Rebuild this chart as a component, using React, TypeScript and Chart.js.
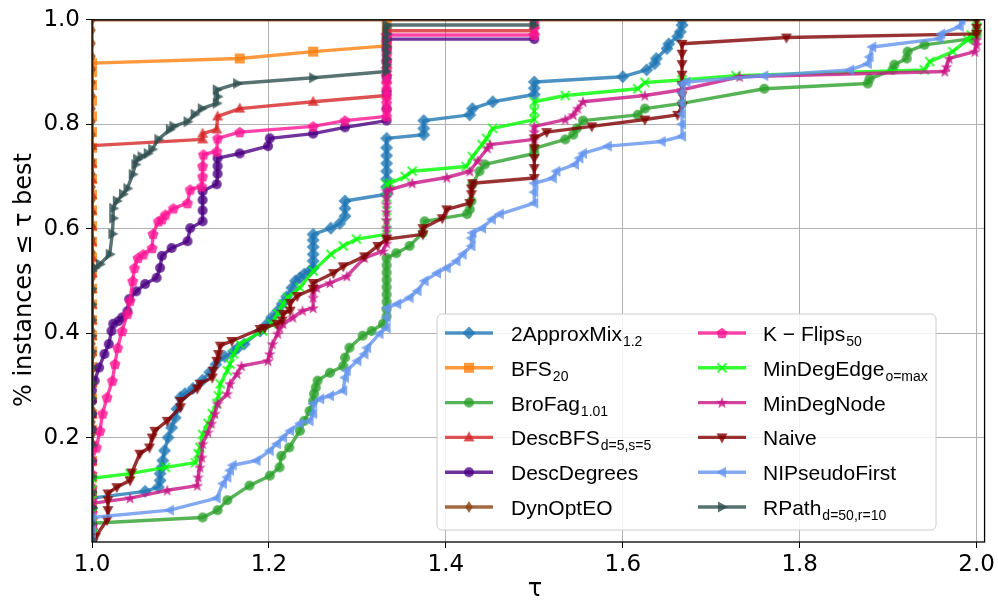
import { useEffect, useRef } from "react";
import { Chart, registerables } from "chart.js";

Chart.register(...registerables);

const LEGEND_FONT = '"Liberation Sans", Arial, sans-serif';
const AXIS_FONT = '"DejaVu Sans", sans-serif';

const seriesNames = ["2ApproxMix", "BFS", "BroFag", "DescBFS", "DescDegrees", "DynOptEO", "K − Flips", "MinDegEdge", "MinDegNode", "Naive", "NIPseudoFirst", "RPath"];
const seriesSubscripts = ["1.2", "20", "1.01", "d=5,s=5", "", "", "50", "o=max", "", "", "", "d=50,r=10"];
const seriesColors = ["#1f77b4", "#ff7f0e", "#2ca02c", "#d62728", "#4b0082", "#8b4513", "#ff1493", "#00ff00", "#c71585", "#800000", "#6495ed", "#2f4f4f"];
const seriesMarkers = ["D", "s", "o", "^", "o", "d", "p", "x", "*", "v", "<", ">"];

const xTicks = [1.0, 1.2, 1.4, 1.6, 1.8, 2.0];
const yTicks = [0.2, 0.4, 0.6, 0.8, 1.0];

// fraction of instances at tau = 1 (best solver)
const approxMixAtOne = [0.005, 0.025, 0.045, 0.065, 0.084];
const bfsAtOne = [0.005, 0.035, 0.065, 0.095, 0.125, 0.155, 0.185, 0.215, 0.245, 0.275, 0.305, 0.335, 0.365, 0.395, 0.425, 0.455, 0.485, 0.515, 0.545, 0.575, 0.605, 0.635, 0.665, 0.695, 0.725, 0.755, 0.785, 0.815, 0.845, 0.875, 0.9, 0.917];
const broFagAtOne = [0.005, 0.02, 0.036];
const descBfsAtOne = [0.005, 0.035, 0.065, 0.095, 0.125, 0.155, 0.185, 0.215, 0.245, 0.275, 0.305, 0.335, 0.365, 0.395, 0.425, 0.455, 0.485, 0.515, 0.545, 0.575, 0.605, 0.635, 0.665, 0.695, 0.725, 0.759];
const descDegreesAtOne = [0.005, 0.035, 0.065, 0.095, 0.125, 0.155, 0.185, 0.215, 0.245, 0.27, 0.29];
const dynOptAtOne = [0.005, 0.03, 0.055, 0.08, 0.105, 0.13, 0.155, 0.18, 0.205, 0.23, 0.255, 0.28, 0.305, 0.33, 0.355, 0.38, 0.405, 0.43, 0.455, 0.48, 0.505, 0.53, 0.555, 0.58, 0.605, 0.63, 0.655, 0.68, 0.705, 0.73, 0.755, 0.78, 0.805, 0.83, 0.855, 0.88, 0.905, 0.93, 0.955, 0.98, 1.0];
const kFlipsAtOne = [0.005, 0.03, 0.055, 0.08, 0.105, 0.13, 0.155, 0.175];
const minDegEdgeAtOne = [0.005, 0.03, 0.055, 0.08, 0.1, 0.122];
const minDegNodeAtOne = [0.005, 0.03, 0.055, 0.074];
const naiveAtOne = [0.005];
const nipAtOne = [0.005, 0.025, 0.047];
const rpathAtOne = [0.005, 0.035, 0.065, 0.095, 0.125, 0.155, 0.185, 0.215, 0.245, 0.275, 0.305, 0.335, 0.365, 0.395, 0.425, 0.455, 0.485, 0.519];

// remaining points [tau, fraction]
const approxMixCurve = [[1.06, 0.097], [1.075, 0.105], [1.077, 0.118], [1.077, 0.131], [1.079, 0.143], [1.08, 0.156], [1.082, 0.175], [1.086, 0.2], [1.09, 0.219], [1.094, 0.238], [1.096, 0.255], [1.1, 0.277], [1.105, 0.284], [1.114, 0.294], [1.125, 0.31], [1.133, 0.325], [1.14, 0.34], [1.15, 0.355], [1.16, 0.365], [1.165, 0.372], [1.172, 0.379], [1.19, 0.404], [1.198, 0.418], [1.203, 0.43], [1.21, 0.443], [1.215, 0.456], [1.22, 0.47], [1.226, 0.487], [1.23, 0.5], [1.235, 0.506], [1.24, 0.513], [1.246, 0.519], [1.25, 0.525], [1.25, 0.538], [1.25, 0.551], [1.25, 0.565], [1.25, 0.578], [1.25, 0.589], [1.27, 0.601], [1.28, 0.61], [1.286, 0.624], [1.286, 0.639], [1.286, 0.653], [1.333, 0.666], [1.333, 0.68], [1.333, 0.695], [1.333, 0.71], [1.333, 0.725], [1.333, 0.74], [1.333, 0.755], [1.333, 0.773], [1.375, 0.78], [1.375, 0.792], [1.375, 0.807], [1.427, 0.818], [1.43, 0.83], [1.453, 0.843], [1.5, 0.857], [1.5, 0.869], [1.5, 0.881], [1.6, 0.891], [1.627, 0.904], [1.636, 0.916], [1.638, 0.926], [1.65, 0.945], [1.652, 0.954], [1.662, 0.968], [1.665, 0.977], [1.667, 0.99], [1.667, 1.0]];
const bfsCurve = [[1.167, 0.926], [1.25, 0.939], [1.333, 0.95], [1.333, 0.965], [1.333, 0.98], [1.333, 1.0]];
const broFagCurve = [[1.125, 0.047], [1.142, 0.061], [1.153, 0.08], [1.178, 0.108], [1.201, 0.127], [1.212, 0.143], [1.214, 0.165], [1.223, 0.181], [1.235, 0.213], [1.24, 0.232], [1.246, 0.251], [1.25, 0.27], [1.251, 0.284], [1.253, 0.296], [1.255, 0.309], [1.269, 0.324], [1.284, 0.337], [1.286, 0.353], [1.291, 0.372], [1.306, 0.395], [1.316, 0.404], [1.329, 0.418], [1.333, 0.432], [1.333, 0.446], [1.333, 0.46], [1.333, 0.474], [1.333, 0.488], [1.333, 0.502], [1.333, 0.516], [1.333, 0.53], [1.333, 0.544], [1.344, 0.553], [1.359, 0.567], [1.374, 0.592], [1.376, 0.614], [1.424, 0.628], [1.427, 0.637], [1.429, 0.653], [1.43, 0.685], [1.438, 0.71], [1.444, 0.723], [1.5, 0.744], [1.5, 0.754], [1.535, 0.771], [1.544, 0.78], [1.548, 0.792], [1.555, 0.807], [1.617, 0.818], [1.625, 0.83], [1.667, 0.84], [1.76, 0.868], [1.877, 0.878], [1.879, 0.887], [1.905, 0.904], [1.907, 0.914], [1.921, 0.926], [1.922, 0.939], [1.941, 0.952], [1.995, 0.964], [2.0, 0.971], [2.0, 0.98]];
const descBfsCurve = [[1.125, 0.771], [1.125, 0.782], [1.141, 0.79], [1.142, 0.815], [1.167, 0.83], [1.25, 0.843], [1.333, 0.855], [1.333, 0.87], [1.333, 0.885], [1.333, 0.9], [1.333, 0.915], [1.333, 0.93], [1.333, 0.945], [1.333, 0.96], [1.333, 0.979], [1.5, 0.979], [1.5, 0.99], [1.5, 1.0]];
const descDegreesCurve = [[1.003, 0.309], [1.008, 0.334], [1.014, 0.36], [1.019, 0.379], [1.022, 0.404], [1.024, 0.418], [1.03, 0.423], [1.034, 0.43], [1.04, 0.442], [1.042, 0.465], [1.05, 0.48], [1.06, 0.494], [1.073, 0.506], [1.077, 0.525], [1.079, 0.548], [1.09, 0.563], [1.108, 0.576], [1.111, 0.601], [1.125, 0.614], [1.125, 0.635], [1.125, 0.655], [1.125, 0.672], [1.141, 0.685], [1.142, 0.705], [1.142, 0.72], [1.142, 0.735], [1.167, 0.744], [1.199, 0.758], [1.201, 0.773], [1.25, 0.782], [1.286, 0.794], [1.333, 0.807], [1.333, 0.83], [1.333, 0.86], [1.333, 0.89], [1.333, 0.92], [1.333, 0.945], [1.333, 0.963], [1.5, 0.963]];
const dynOptCurve = [[2.0, 1.0]];
const kFlipsCurve = [[1.005, 0.181], [1.009, 0.213], [1.012, 0.246], [1.017, 0.277], [1.023, 0.309], [1.026, 0.341], [1.029, 0.372], [1.034, 0.404], [1.04, 0.437], [1.043, 0.462], [1.046, 0.5], [1.048, 0.525], [1.052, 0.544], [1.058, 0.551], [1.068, 0.563], [1.069, 0.59], [1.075, 0.614], [1.079, 0.618], [1.083, 0.627], [1.092, 0.639], [1.108, 0.649], [1.111, 0.675], [1.124, 0.681], [1.125, 0.7], [1.125, 0.72], [1.126, 0.742], [1.141, 0.748], [1.142, 0.773], [1.167, 0.785], [1.25, 0.796], [1.286, 0.807], [1.333, 0.815], [1.333, 0.828], [1.333, 0.841], [1.333, 0.854], [1.333, 0.867], [1.333, 0.88], [1.333, 0.893], [1.333, 0.906], [1.333, 0.919], [1.333, 0.932], [1.333, 0.945], [1.333, 0.958], [1.333, 0.971], [1.5, 0.971], [1.5, 0.985], [1.5, 1.0]];
const minDegEdgeCurve = [[1.043, 0.131], [1.083, 0.143], [1.117, 0.152], [1.12, 0.169], [1.122, 0.181], [1.125, 0.206], [1.131, 0.227], [1.136, 0.246], [1.141, 0.265], [1.143, 0.28], [1.145, 0.303], [1.153, 0.328], [1.156, 0.341], [1.16, 0.36], [1.167, 0.379], [1.193, 0.404], [1.203, 0.418], [1.21, 0.437], [1.216, 0.456], [1.221, 0.468], [1.235, 0.487], [1.25, 0.519], [1.27, 0.551], [1.284, 0.567], [1.299, 0.58], [1.333, 0.589], [1.333, 0.61], [1.333, 0.635], [1.333, 0.66], [1.333, 0.685], [1.337, 0.687], [1.354, 0.7], [1.362, 0.71], [1.423, 0.719], [1.43, 0.738], [1.441, 0.761], [1.446, 0.773], [1.453, 0.792], [1.5, 0.809], [1.5, 0.825], [1.5, 0.843], [1.535, 0.855], [1.617, 0.868], [1.625, 0.88], [1.667, 0.885], [1.728, 0.893], [1.941, 0.904], [1.947, 0.92], [1.973, 0.939], [1.99, 0.962], [1.994, 0.971], [2.0, 0.983], [2.0, 1.0]];
const minDegNodeCurve = [[1.043, 0.084], [1.085, 0.099], [1.119, 0.108], [1.12, 0.124], [1.122, 0.143], [1.124, 0.162], [1.125, 0.188], [1.131, 0.21], [1.135, 0.227], [1.139, 0.246], [1.142, 0.265], [1.153, 0.284], [1.156, 0.303], [1.164, 0.322], [1.169, 0.337], [1.199, 0.347], [1.201, 0.36], [1.204, 0.379], [1.21, 0.399], [1.212, 0.41], [1.216, 0.418], [1.227, 0.43], [1.238, 0.443], [1.25, 0.448], [1.25, 0.468], [1.25, 0.48], [1.254, 0.487], [1.269, 0.496], [1.288, 0.509], [1.308, 0.544], [1.329, 0.557], [1.333, 0.572], [1.333, 0.587], [1.333, 0.602], [1.333, 0.617], [1.333, 0.632], [1.333, 0.647], [1.333, 0.66], [1.333, 0.672], [1.337, 0.675], [1.362, 0.687], [1.401, 0.698], [1.427, 0.71], [1.436, 0.73], [1.447, 0.754], [1.45, 0.761], [1.5, 0.771], [1.5, 0.785], [1.5, 0.796], [1.535, 0.809], [1.544, 0.818], [1.549, 0.83], [1.555, 0.843], [1.625, 0.855], [1.667, 0.866], [1.732, 0.891], [1.964, 0.901], [1.966, 0.91], [1.969, 0.926], [1.998, 0.939], [2.0, 0.952], [2.0, 0.962]];
const naiveCurve = [[1.004, 0.01], [1.017, 0.042], [1.018, 0.061], [1.018, 0.08], [1.018, 0.093], [1.028, 0.105], [1.043, 0.118], [1.045, 0.133], [1.054, 0.169], [1.065, 0.181], [1.068, 0.2], [1.071, 0.213], [1.085, 0.232], [1.1, 0.258], [1.1, 0.27], [1.119, 0.294], [1.122, 0.303], [1.136, 0.315], [1.137, 0.328], [1.141, 0.347], [1.143, 0.36], [1.145, 0.376], [1.158, 0.385], [1.19, 0.408], [1.195, 0.41], [1.209, 0.418], [1.215, 0.424], [1.216, 0.437], [1.224, 0.443], [1.224, 0.458], [1.232, 0.471], [1.25, 0.485], [1.25, 0.496], [1.273, 0.515], [1.284, 0.528], [1.308, 0.547], [1.323, 0.567], [1.333, 0.58], [1.374, 0.589], [1.374, 0.601], [1.396, 0.62], [1.401, 0.637], [1.427, 0.649], [1.429, 0.666], [1.429, 0.677], [1.43, 0.687], [1.5, 0.697], [1.5, 0.716], [1.5, 0.735], [1.5, 0.754], [1.5, 0.773], [1.514, 0.785], [1.565, 0.796], [1.625, 0.809], [1.662, 0.818], [1.667, 0.835], [1.667, 0.855], [1.667, 0.875], [1.667, 0.895], [1.667, 0.915], [1.667, 0.935], [1.667, 0.954], [1.785, 0.966], [2.0, 0.973], [2.0, 0.985], [2.0, 1.0]];
const nipCurve = [[1.088, 0.061], [1.141, 0.084], [1.148, 0.112], [1.153, 0.124], [1.156, 0.137], [1.159, 0.147], [1.186, 0.156], [1.201, 0.175], [1.209, 0.188], [1.216, 0.2], [1.224, 0.213], [1.235, 0.227], [1.246, 0.232], [1.25, 0.246], [1.25, 0.265], [1.258, 0.274], [1.269, 0.28], [1.284, 0.29], [1.286, 0.315], [1.288, 0.328], [1.3, 0.347], [1.308, 0.36], [1.311, 0.372], [1.325, 0.399], [1.333, 0.41], [1.333, 0.43], [1.333, 0.448], [1.345, 0.456], [1.359, 0.468], [1.368, 0.481], [1.376, 0.5], [1.39, 0.515], [1.401, 0.525], [1.412, 0.538], [1.419, 0.551], [1.429, 0.567], [1.429, 0.582], [1.43, 0.592], [1.441, 0.601], [1.452, 0.618], [1.461, 0.628], [1.5, 0.649], [1.5, 0.67], [1.5, 0.687], [1.521, 0.697], [1.525, 0.71], [1.546, 0.723], [1.551, 0.735], [1.555, 0.744], [1.583, 0.758], [1.644, 0.767], [1.667, 0.777], [1.667, 0.8], [1.667, 0.82], [1.667, 0.84], [1.667, 0.86], [1.667, 0.878], [1.672, 0.881], [1.76, 0.893], [1.857, 0.904], [1.877, 0.916], [1.879, 0.929], [1.882, 0.948], [1.958, 0.964], [1.96, 0.973], [1.981, 0.987], [1.983, 1.0]];
const rpathCurve = [[1.003, 0.525], [1.009, 0.532], [1.02, 0.551], [1.023, 0.59], [1.024, 0.62], [1.024, 0.639], [1.028, 0.653], [1.035, 0.666], [1.04, 0.677], [1.046, 0.704], [1.049, 0.723], [1.051, 0.733], [1.056, 0.738], [1.063, 0.744], [1.068, 0.752], [1.075, 0.771], [1.088, 0.79], [1.092, 0.796], [1.108, 0.805], [1.116, 0.819], [1.124, 0.83], [1.141, 0.84], [1.142, 0.853], [1.141, 0.866], [1.164, 0.878], [1.25, 0.889], [1.333, 0.901], [1.333, 0.913], [1.333, 0.925], [1.333, 0.937], [1.333, 0.949], [1.333, 0.961], [1.333, 0.973], [1.333, 0.985], [1.333, 0.99], [1.5, 0.99], [1.5, 1.0]];

const atOneLists = [approxMixAtOne, bfsAtOne, broFagAtOne, descBfsAtOne, descDegreesAtOne, dynOptAtOne, kFlipsAtOne, minDegEdgeAtOne, minDegNodeAtOne, naiveAtOne, nipAtOne, rpathAtOne];
const curveLists = [approxMixCurve, bfsCurve, broFagCurve, descBfsCurve, descDegreesCurve, dynOptCurve, kFlipsCurve, minDegEdgeCurve, minDegNodeCurve, naiveCurve, nipCurve, rpathCurve];

function rgba(hex: string, a: number) {
  const n = parseInt(hex.slice(1), 16);
  return `rgba(${(n >> 16) & 255},${(n >> 8) & 255},${n & 255},${a})`;
}

function makeMarker(shape: string, color: string): HTMLCanvasElement {
  const S = 16;
  const c = document.createElement("canvas");
  c.width = S;
  c.height = S;
  const g = c.getContext("2d")!;
  g.translate(S / 2, S / 2);
  g.fillStyle = rgba(color, 0.8);
  g.strokeStyle = rgba(color, 0.8);
  g.beginPath();
  const poly = (pts: number[][]) => {
    pts.forEach(([x, y], i) => (i ? g.lineTo(x, y) : g.moveTo(x, y)));
    g.closePath();
  };
  switch (shape) {
    case "D": poly([[0, -6.5], [6.5, 0], [0, 6.5], [-6.5, 0]]); break;
    case "s": g.rect(-5, -5, 10, 10); break;
    case "o": g.arc(0, 0, 5, 0, Math.PI * 2); break;
    case "^": poly([[0, -6], [5.5, 4], [-5.5, 4]]); break;
    case "v": poly([[0, 6], [5.5, -4], [-5.5, -4]]); break;
    case "<": poly([[-6, 0], [4, -5.5], [4, 5.5]]); break;
    case ">": poly([[6, 0], [-4, -5.5], [-4, 5.5]]); break;
    case "d": poly([[0, -6], [3.8, 0], [0, 6], [-3.8, 0]]); break;
    case "p": {
      const pts = [];
      for (let k = 0; k < 5; k++) {
        const a = -Math.PI / 2 + (k * 2 * Math.PI) / 5;
        pts.push([5.8 * Math.cos(a), 5.8 * Math.sin(a) + 0.5]);
      }
      poly(pts);
      break;
    }
    case "*": {
      const pts = [];
      for (let k = 0; k < 10; k++) {
        const a = -Math.PI / 2 + (k * Math.PI) / 5;
        const r = k % 2 ? 2.6 : 6.2;
        pts.push([r * Math.cos(a), r * Math.sin(a) + 0.5]);
      }
      poly(pts);
      break;
    }
    case "x": {
      g.lineWidth = 1.8;
      g.moveTo(-4.5, -4.5); g.lineTo(4.5, 4.5);
      g.moveTo(4.5, -4.5); g.lineTo(-4.5, 4.5);
      g.stroke();
      return c;
    }
  }
  g.fill();
  return c;
}

export default function App() {
  const ref = useRef<HTMLCanvasElement>(null);
  useEffect(() => {
    const canvas = ref.current!;
    const markers = seriesMarkers.map((m, i) => makeMarker(m, seriesColors[i]));
    const datasets = seriesNames.map((name, i) => ({
      label: name,
      data: [
        ...atOneLists[i].map((y) => ({ x: 1, y })),
        ...curveLists[i].map(([x, y]) => ({ x, y })),
      ],
      borderColor: rgba(seriesColors[i], 0.8),
      backgroundColor: rgba(seriesColors[i], 0.8),
      borderWidth: 3.4,
      borderJoinStyle: "round" as const,
      pointStyle: markers[i],
      pointRadius: 5,
      pointHoverRadius: 5,
      tension: 0,
      clip: 0,
      order: -i,
    }));

    const deco = {
      id: "deco",
      afterDatasetsDraw(chart: any) {
        const { ctx, chartArea: a } = chart;
        ctx.save();
        ctx.strokeStyle = "#000";
        ctx.lineWidth = 1.3;
        ctx.strokeRect(a.left, a.top, a.right - a.left, a.bottom - a.top);
        ctx.restore();
      },
      afterDraw(chart: any) {
        const { ctx } = chart;
        ctx.save();
        ctx.fillStyle = "#000";
        ctx.font = `24px ${AXIS_FONT}`;
        ctx.textAlign = "center";
        ctx.textBaseline = "alphabetic";
        ctx.fillText("τ", 535, 596);
        ctx.translate(31, 280);
        ctx.rotate(-Math.PI / 2);
        ctx.fillText("% instances ≤ τ best", 0, 0);
        ctx.restore();

        // legend
        ctx.save();
        const bx = 437, by = 314, bw = 499, bh = 216, r = 5;
        ctx.beginPath();
        ctx.moveTo(bx + r, by);
        ctx.arcTo(bx + bw, by, bx + bw, by + bh, r);
        ctx.arcTo(bx + bw, by + bh, bx, by + bh, r);
        ctx.arcTo(bx, by + bh, bx, by, r);
        ctx.arcTo(bx, by, bx + bw, by, r);
        ctx.closePath();
        ctx.fillStyle = "rgba(255,255,255,0.85)";
        ctx.fill();
        ctx.strokeStyle = "#cccccc";
        ctx.lineWidth = 1;
        ctx.stroke();
        for (let i = 0; i < seriesNames.length; i++) {
          const col = i < 6 ? 0 : 1;
          const row = i % 6;
          const y = 333 + row * 34.8;
          const lx = col ? 698 : 445;
          const tx = col ? 763 : 511;
          ctx.strokeStyle = rgba(seriesColors[i], 0.8);
          ctx.lineWidth = 3.4;
          ctx.beginPath();
          ctx.moveTo(lx, y);
          ctx.lineTo(lx + 48, y);
          ctx.stroke();
          const m = markers[i];
          ctx.drawImage(m, lx + 24 - m.width / 2, y - m.height / 2);
          ctx.fillStyle = "#000";
          ctx.textAlign = "left";
          ctx.textBaseline = "alphabetic";
          ctx.font = `21px ${LEGEND_FONT}`;
          ctx.fillText(seriesNames[i], tx, y + 8);
          const w = ctx.measureText(seriesNames[i]).width;
          if (seriesSubscripts[i]) {
            ctx.font = `14px ${LEGEND_FONT}`;
            ctx.fillText(seriesSubscripts[i], tx + w + 1, y + 13);
          }
        }
        ctx.restore();
      },
    };

    const tickFont = { family: AXIS_FONT, size: 23 };
    const chart = new Chart(canvas, {
      type: "line",
      data: { datasets: datasets as any },
      options: {
        animation: false,
        responsive: false,
        devicePixelRatio: 1,
        events: [],
        layout: { padding: { top: 18, right: 13, left: 0, bottom: 0 } },
        plugins: { legend: { display: false }, tooltip: { enabled: false } },
        scales: {
          x: {
            type: "linear",
            min: 1.0,
            max: 2.009,
            afterBuildTicks: (s: any) => { s.ticks = xTicks.map((v) => ({ value: v })); },
            afterFit: (s: any) => { s.height = 63; },
            ticks: { callback: (v: any) => Number(v).toFixed(1), font: tickFont, color: "#000", padding: 3, maxRotation: 0, autoSkip: false },
            grid: { color: "#b0b0b0", lineWidth: 1, tickColor: "#000", tickLength: 6 },
            border: { display: false },
          },
          y: {
            type: "linear",
            min: 0,
            max: 1.0,
            afterBuildTicks: (s: any) => { s.ticks = yTicks.map((v) => ({ value: v })); },
            afterFit: (s: any) => { s.width = 92; },
            ticks: { callback: (v: any) => Number(v).toFixed(1), font: tickFont, color: "#000", padding: 6 },
            grid: { color: "#b0b0b0", lineWidth: 1, tickColor: "#000", tickLength: 6 },
            border: { display: false },
          },
        },
      },
      plugins: [deco],
    });
    return () => chart.destroy();
  }, []);

  return (
    <div style={{ position: "absolute", left: 0, top: 0, width: 998, height: 605, background: "#fff" }}>
      <canvas ref={ref} width={998} height={605} style={{ display: "block", width: 998, height: 605 }} />
    </div>
  );
}
